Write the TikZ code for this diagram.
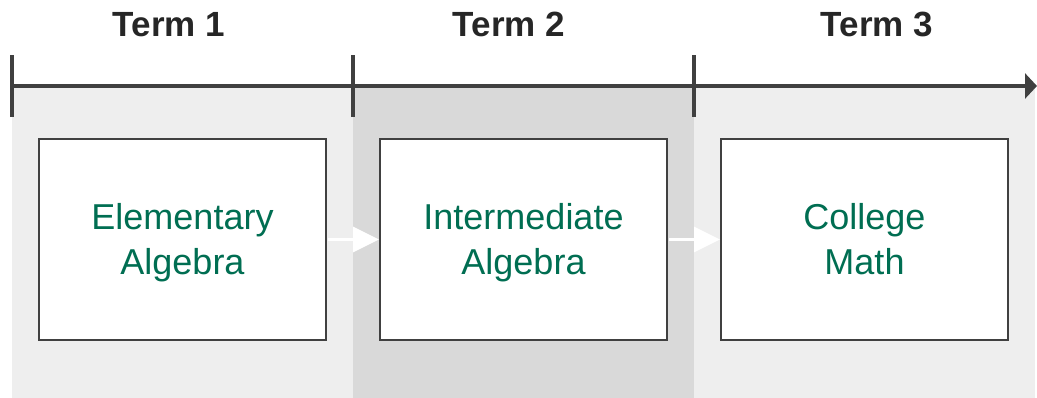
\documentclass[tikz,border=0pt]{standalone}
\usepackage{fontspec}
\setmainfont{Liberation Sans}
\usetikzlibrary{arrows.meta}

\definecolor{bandlight}{HTML}{EEEEEE}
\definecolor{banddark}{HTML}{D9D9D9}
\definecolor{axisgray}{HTML}{404040}
\definecolor{titlegray}{HTML}{262626}
\definecolor{coursegreen}{HTML}{006E52}

\tikzset{
  band/.style={fill=#1, draw=none},
  termlabel/.style={font=\fontsize{35}{38}\selectfont\bfseries, text=titlegray, anchor=base, inner sep=0pt},
  course/.style={draw=axisgray, line width=2pt, fill=white,
    minimum width=287pt, minimum height=201pt, inner sep=0pt},
  coursename/.style={align=center, text=coursegreen, inner sep=0pt, anchor=base,
    font=\fontsize{36}{45}\selectfont},
  axis/.style={draw=axisgray, line width=4pt},
  tick/.style={draw=axisgray, line width=4pt},
  flow/.style={draw=white, line width=3pt, -{Triangle[length=26pt,width=25pt]}, shorten <=1pt}
}

\begin{document}
\begin{tikzpicture}[x=1pt, y=-1pt]
  \useasboundingbox (0,0) rectangle (1037,398);

  % term bands
  \fill[band=bandlight] (12,86) rectangle (353,398);
  \fill[band=banddark]  (353,86) rectangle (694,398);
  \fill[band=bandlight] (694,86) rectangle (1035,398);

  % time axis with term boundaries
  \coordinate (t0) at (12,86);
  \coordinate (t1) at (353,86);
  \coordinate (t2) at (694,86);
  \coordinate (tend) at (1037,86);
  \draw[axis, -{Triangle[length=12pt,width=25pt]}] (t0) -- (tend);
  \foreach \c in {t0,t1,t2} {
    \draw[tick] ([yshift=-31pt]\c) -- ([yshift=31pt]\c);
  }

  % term titles
  \node[termlabel] (term1) at (169,37) {Term 1};
  \node[termlabel] (term2) at (509,37) {Term 2};
  \node[termlabel] (term3) at (877,37) {Term 3};

  % course boxes
  \node[course] (elem)  at (182.5,239.5) {};
  \node[course] (inter) at (523.5,239.5) {};
  \node[course] (coll)  at (864.5,239.5) {};

  % course names (base anchor sits on the second line)
  \node[coursename] (elemname)  at (182.5,275) {Elementary\\Algebra};
  \node[coursename] (intername) at (523.5,275) {Intermediate\\Algebra};
  \node[coursename] (collname)  at (864.5,275) {College\\Math};

  % sequence arrows
  \draw[flow] (elem.east) -- (inter.west);
  \draw[flow] (inter.east) -- (coll.west);
\end{tikzpicture}
\end{document}
